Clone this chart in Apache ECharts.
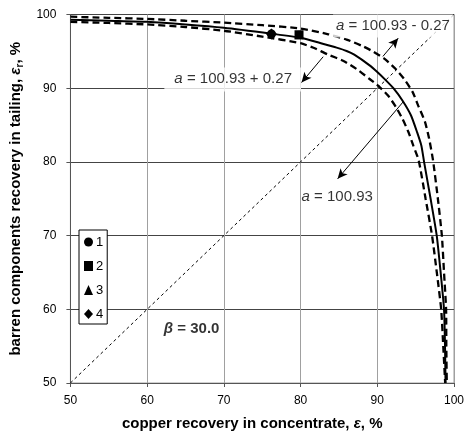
<!DOCTYPE html>
<html><head><meta charset="utf-8">
<script src="https://cdn.jsdelivr.net/npm/echarts@6/dist/echarts.min.js"></script>
<style>html,body{margin:0;padding:0;background:#fff}#c{width:467px;height:436px}</style>
</head><body><div id="c"></div>
<script>
// ---- data ----
const curveMid = [[50,99.3],[55,99.15],[60,99.0],[65,98.65],[70,98.2],[76.2,97.4],[80,96.85],[83,96.0],[84.7,95.5],[86,95.05],[87,94.55],[89,93.1],[90,92.2],[91,91.2],[92.1,90.0],[93.3,88.3],[94.4,86.3],[95.2,84.0],[95.75,82.2],[96.1,80],[96.95,75],[97.75,70],[98.26,65],[98.7,60],[98.83,55],[98.9,50]];
const curveInner = [[50,99.0],[55,98.85],[60,98.65],[65,98.3],[70,97.8],[75,97.0],[80,96.1],[82,95.35],[83.5,94.6],[85.6,93.7],[87.3,92.6],[89,91.25],[90.2,90.25],[91.4,89.0],[92.4,87.5],[93.3,85.8],[94.06,84.05],[94.7,82.2],[95.4,80.2],[96.3,75],[97.14,70],[97.76,65],[98.33,60],[98.6,55],[98.85,50]];
const curveOuter = [[50,99.7],[55,99.55],[60,99.4],[65,99.15],[70,98.9],[75,98.55],[80,98.1],[83.5,97.35],[86,96.6],[88,95.75],[89.5,94.95],[91,93.95],[92.4,92.6],[93.5,91.25],[94.6,89.5],[95.35,87.6],[96.2,85.5],[96.75,83.2],[97.27,80.2],[97.9,75],[98.42,70],[98.7,65],[98.97,60],[99.0,55],[99.06,50]];
const diagonal = [[50,50],[100,100]];
const point1 = [[76.2,97.35]];
const point2 = [[79.8,97.25]];
const point3 = [[79.8,97.25]];
const point4 = [[76.2,97.35]];
const legendNames = ['1','2','3','4'];
const noteTexts = ['a = 100.93 + 0.27','a = 100.93 - 0.27','a = 100.93','β = 30.0'];
const notePos = [[71.15,91.17],[92.05,98.45],[80.13,75.31],[65.8,57.4]];
const arrows = [[[82.95,94.27],[80.13,90.77]],[[90.73,94.31],[92.73,96.79]],[[93.46,88.25],[84.83,77.7]]];
const axisMin = 50, axisMax = 100, axisStep = 10;

// ---- chart ----
const FONT = 'Liberation Sans, Arial, sans-serif';
const chart = echarts.init(document.getElementById('c'), null, {renderer:'canvas'});

function richNote(t, i){
  if (i === 3) return '{g|β}{b|' + t.slice(1) + '}';
  return '{i|a}{n|' + t.slice(1) + '}';
}
const noteRich = {
  i:{fontStyle:'italic',fontSize:15,fontFamily:FONT,color:'#000'},
  n:{fontSize:15,fontFamily:FONT,color:'#000'},
  g:{fontStyle:'italic',fontWeight:'bold',fontSize:15,fontFamily:FONT,color:'#000'},
  b:{fontWeight:'bold',fontSize:15,fontFamily:FONT,color:'#000'}
};
const noteSeries = noteTexts.map((t,i)=>({
  type:'scatter', symbolSize:0, z:20, silent:true, animation:false,
  data:[notePos[i]],
  label:{show:true, position:'inside', formatter:richNote(t,i), rich:noteRich,
    align: i===2 ? 'left' : 'center', verticalAlign:'middle',
    backgroundColor: i<2 ? '#fff' : 'transparent',
    padding: i===0 ? [4,9,5,10] : (i===1 ? [4,3,4,3] : 0)}
}));

function axisCommon(){
  return {
    type:'value', min:axisMin, max:axisMax, interval:axisStep,
    axisLine:{show:true, onZero:false, lineStyle:{color:'#555',width:1}},
    axisTick:{show:true, inside:false, length:4, lineStyle:{color:'#555'}},
    nameLocation:'middle'
  };
}
const xAxis = Object.assign(axisCommon(), {
  name:'copper recovery in concentrate, {e|ε}, %', nameGap:33,
  nameTextStyle:{fontSize:15, fontWeight:'bold', fontFamily:FONT, color:'#000', padding:[0,20,0,0],
    rich:{e:{fontSize:15,fontWeight:'bold',fontStyle:'italic',fontFamily:FONT,color:'#000'}}},
  splitLine:{show:true, lineStyle:{color:'#a0a0a0', width:1}},
  axisLabel:{color:'#000', fontSize:12, fontFamily:FONT, margin:12}
});
const yAxis = Object.assign(axisCommon(), {
  name:'{t|barren components recovery in tailing, }{e|ε}{s|r}{t|, %}', nameGap:37, nameRotate:90,
  nameTextStyle:{fontSize:15, fontWeight:'bold', fontFamily:FONT, color:'#000',
    rich:{
      t:{fontSize:15,fontWeight:'bold',fontFamily:FONT,color:'#000',lineHeight:20},
      e:{fontSize:15,fontWeight:'bold',fontStyle:'italic',fontFamily:FONT,color:'#000',lineHeight:20},
      s:{fontSize:10,fontWeight:'bold',fontFamily:FONT,color:'#000',lineHeight:10,verticalAlign:'bottom'}
    }},
  splitLine:{show:true, lineStyle:{color:'#444', width:1}},
  axisLabel:{color:'#000', fontSize:12, fontFamily:FONT, margin:14}
});

const dash = [7,4];
const mk = {color:'#000', opacity:1};
const series = [
  {type:'line', name:'diag', data:diagonal, symbol:'none', silent:true, z:2,
    lineStyle:{color:'#000', width:1, type:[3,3]},
    markLine:{silent:true, animation:false, symbol:['none','arrow'], symbolSize:[7,10],
      lineStyle:{color:'#000', width:1, type:'solid'}, label:{show:false},
      data: arrows.map(a=>[{coord:a[0]},{coord:a[1]}])}
  },
  {type:'line', name:'inner', data:curveInner, symbol:'none', smooth:0.2, z:3,
    lineStyle:{color:'#000', width:2.3, type:dash}},
  {type:'line', name:'outer', data:curveOuter, symbol:'none', smooth:0.2, z:3,
    lineStyle:{color:'#000', width:2.3, type:dash}},
  {type:'line', name:'mid', data:curveMid, symbol:'none', smooth:0.2, z:4,
    lineStyle:{color:'#000', width:2, type:'solid'}},
  {type:'scatter', name:legendNames[2], data:point3, symbol:'triangle', symbolSize:9, z:5, itemStyle:mk},
  {type:'scatter', name:legendNames[3], data:point4, symbol:'diamond', symbolSize:11, z:5, itemStyle:mk},
  {type:'scatter', name:legendNames[0], data:point1, symbol:'circle', symbolSize:9, z:6, itemStyle:mk},
  {type:'scatter', name:legendNames[1], data:point2, symbol:'rect', symbolSize:9, z:6, itemStyle:mk}
].concat(noteSeries);

chart.setOption({
  animation:false,
  backgroundColor:'#fff',
  textStyle:{fontFamily:FONT},
  grid:{left:69, top:14.5, width:390, height:371, show:true, borderColor:'#a0a0a0', borderWidth:1, backgroundColor:'transparent'},
  xAxis:xAxis,
  yAxis:yAxis,
  legend:{data:legendNames, orient:'vertical', left:79, top:230, itemWidth:9, itemHeight:10, itemGap:10,
    padding:[5,4,3,5], backgroundColor:'#fff', borderColor:'#000', borderWidth:1, selectedMode:false,
    itemStyle:{opacity:1},
    textStyle:{fontSize:13, lineHeight:14, fontFamily:FONT, color:'#000', padding:[0,0,0,-2]}, z:30},
  series:series
});
</script></body></html>
